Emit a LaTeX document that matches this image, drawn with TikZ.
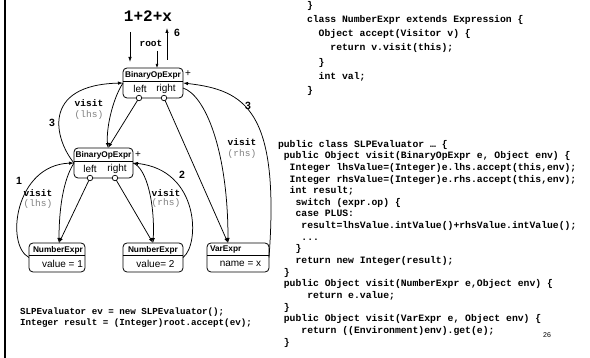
\documentclass[tikz,border=0pt]{standalone}
\usepackage{fontspec}
\setmainfont{Liberation Sans}
\newfontfamily\codefont{Liberation Mono}
\usetikzlibrary{arrows.meta}

\begin{document}
\begin{tikzpicture}[x=1pt,y=-1pt,
  every node/.style={inner sep=0pt, outer sep=0pt},
  objbox/.style={draw, rounded corners=4pt, line width=0.8pt},
  hdr/.style={line width=0.8pt},
  hdrtxt/.style={font=\bfseries\fontsize{8.3}{9}\selectfont},
  field/.style={font=\fontsize{10}{11}\selectfont},
  plussign/.style={font=\fontsize{10}{11}\selectfont},
  port/.style={circle, draw, fill=white, line width=0.7pt, minimum size=5.5pt},
  arr/.style={line width=0.75pt, -{Latex[length=5pt,width=3.4pt]}},
  visitlbl/.style={font=\codefont\bfseries\fontsize{9.5}{10}\selectfont},
  arglbl/.style={font=\codefont\fontsize{9.5}{10}\selectfont, text=black!50},
  numlbl/.style={font=\bfseries\fontsize{10.5}{11}\selectfont},
  code/.style={align=left, anchor=north west}]

\useasboundingbox (0,0) rectangle (590,358);

% frame bar on the left
\fill (3.5,0) rectangle (6,358);

% expression and entry point
\node[font=\codefont\bfseries\fontsize{16}{16}\selectfont] (expr) at (148,16) {1+2+x};
\coordinate (inTop) at (130,32);
\coordinate (inBot) at (130,62);
\coordinate (outBot) at (167,60);
\coordinate (outTop) at (167,28);
\draw[arr] (inTop) -- (inBot);
\draw[arr] (outBot) -- (outTop);
\node[numlbl] (six) at (177,33) {6};
\node[visitlbl] (root) at (151,43) {root};
\coordinate (rootTail) at (157,51);

% object boxes
\node[objbox, minimum width=60, minimum height=30] (T) at (153,83) {};
\node[objbox, minimum width=59, minimum height=30] (B) at (103.5,163) {};
\node[objbox, minimum width=56, minimum height=29] (N1) at (57,257.5) {};
\node[objbox, minimum width=60, minimum height=29] (N2) at (153,257.5) {};
\node[objbox, minimum width=62, minimum height=29] (V) at (238,257.5) {};

\draw[hdr] ([yshift=-13pt]T.north west) -- ([yshift=-13pt]T.north east);
\draw[hdr] ([yshift=-13pt]B.north west) -- ([yshift=-13pt]B.north east);
\draw[hdr] ([yshift=-12pt]N1.north west) -- ([yshift=-12pt]N1.north east);
\draw[hdr] ([yshift=-12pt]N2.north west) -- ([yshift=-12pt]N2.north east);
\draw[hdr] ([yshift=-12pt]V.north west) -- ([yshift=-12pt]V.north east);

\draw[line width=0.6pt, -{Latex[length=4pt,width=2.8pt]}] (rootTail) -- (rootTail |- T.north);

% box contents
\node[hdrtxt] (Tname) at (153,75) {BinaryOpExpr};
\node[plussign] (Tplus) at (188,74) {+};
\node[field] (Tleft) at (140,89) {left};
\node[field] (Tright) at (166,89) {right};

\node[hdrtxt] (Bname) at (103.5,155) {BinaryOpExpr};
\node[plussign] (Bplus) at (138,155) {+};
\node[field] (Bleft) at (90,169) {left};
\node[field] (Bright) at (117,169) {right};

\node[hdrtxt, anchor=west] (N1name) at (33,250) {NumberExpr};
\node[field] (N1val) at (62.5,264) {value = 1};
\node[hdrtxt, anchor=west] (N2name) at (128,250) {NumberExpr};
\node[field] (N2val) at (155.5,264) {value= 2};
\node[hdrtxt, anchor=west] (Vname) at (210,250) {VarExpr};
\node[field] (Vval) at (240.5,264) {name = x};

% reference ports
\node[port] (TL) at (139,98) {};
\node[port] (TR) at (164,98) {};
\node[port] (BL) at (90,178) {};
\node[port] (BR) at (115,178) {};

% pointers
\draw[arr] (TL) -- ([xshift=4.5pt]B.north);
\draw[arr] (BL) -- ([xshift=2pt]N1.north);
\draw[arr] (BR) -- (N2.north);
\draw[arr] (TR) -- ([xshift=-10pt]V.north);

% visit calls
\draw[arr] (T.west) .. controls (112,100) and (106,130) .. ([xshift=4.5pt]B.north);
\draw[arr] (B.west) .. controls (63,180) and (59,210) .. ([xshift=2pt]N1.north);
\draw[arr] (B.east) .. controls (147,168) and (155,205) .. (N2.north);
\draw[arr] ([yshift=-5pt]T.east) .. controls (205,95) and (228,150) .. ([xshift=-10pt]V.north);

% returned values
\draw[arr] (B.west) .. controls (55,140) and (40,85) .. (T.west);
\draw[arr] (N1.west) .. controls (5,245) and (15,165) .. (B.west);
\draw[arr] (N2.east) .. controls (200,245) and (200,170) .. (B.east);
\draw[arr] (V.east) .. controls (280,110) and (245,90) .. (T.east);

% edge labels
\node[visitlbl] (v1) at (89,103) {visit};
\node[arglbl] (a1) at (89,115) {(lhs)};
\node[numlbl] (r1) at (52,123) {3};
\node[visitlbl] (v2) at (242,142) {visit};
\node[arglbl] (a2) at (242,154) {(rhs)};
\node[numlbl] (r2) at (248,106) {3};
\node[visitlbl] (v3) at (38,193) {visit};
\node[arglbl] (a3) at (38,204) {(lhs)};
\node[numlbl] (r3) at (19,181) {1};
\node[visitlbl] (v4) at (166,193) {visit};
\node[arglbl] (a4) at (166,203) {(rhs)};
\node[numlbl] (r4) at (182,175) {2};

% source code
\node[code, font=\codefont\bfseries\fontsize{9.75}{14.3}\selectfont] (numcls) at (307,1) {%
\}\\
class NumberExpr extends Expression \{\\
\hspace*{1.2em}Object accept(Visitor v) \{\\
\hspace*{2.4em}return v.visit(this);\\
\hspace*{1.2em}\}\\
\hspace*{1.2em}int val;\\
\}};

\node[code, font=\codefont\bfseries\fontsize{9.75}{11.65}\selectfont] (evalcls) at (278,140) {%
public class SLPEvaluator … \{\\
\hspace*{0.6em}public Object visit(BinaryOpExpr e, Object env) \{\\
\hspace*{1.2em}Integer lhsValue=(Integer)e.lhs.accept(this,env);\\
\hspace*{1.2em}Integer rhsValue=(Integer)e.rhs.accept(this,env);\\
\hspace*{1.2em}int result;\\
\hspace*{1.8em}switch (expr.op) \{\\
\hspace*{1.8em}case PLUS:\\
\hspace*{2.4em}result=lhsValue.intValue()+rhsValue.intValue();\\
\hspace*{2.4em}...\\
\hspace*{1.8em}\}\\
\hspace*{1.8em}return new Integer(result);\\
\hspace*{0.6em}\}\\
\hspace*{0.6em}public Object visit(NumberExpr e,Object env) \{\\
\hspace*{3.0em}return e.value;\\
\hspace*{0.6em}\}\\
\hspace*{0.6em}public Object visit(VarExpr e, Object env) \{\\
\hspace*{2.4em}return ((Environment)env).get(e);\\
\hspace*{0.6em}\}};

\node[code, font=\codefont\bfseries\fontsize{9.2}{11}\selectfont] (client) at (20,308) {%
SLPEvaluator ev = new SLPEvaluator();\\
Integer result = (Integer)root.accept(ev);};

\node[font=\fontsize{7}{7}\selectfont] (pageno) at (547,335) {26};
\end{tikzpicture}
\end{document}
